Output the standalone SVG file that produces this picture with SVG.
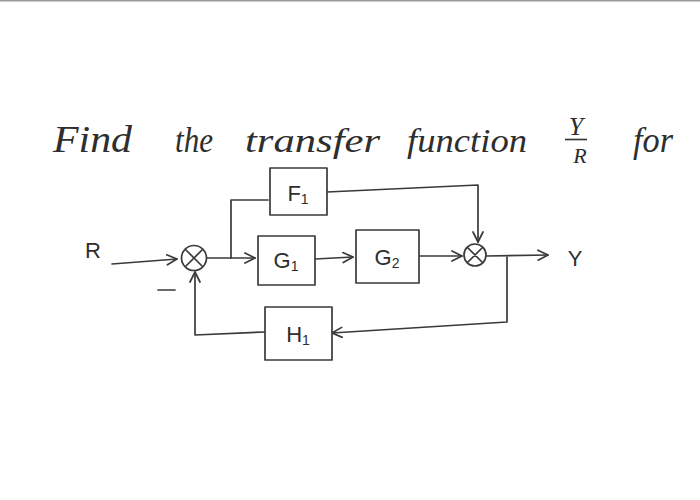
<svg xmlns="http://www.w3.org/2000/svg" width="700" height="500" viewBox="0 0 700 500">
<style>
.ln{fill:none;stroke:#3a3a3a;stroke-width:1.7;stroke-linecap:round;stroke-linejoin:round}
.bx{fill:#fff;stroke:#3a3a3a;stroke-width:1.7;stroke-linejoin:round}
.t{font-family:"Liberation Serif","DejaVu Serif",serif;font-style:italic;fill:#2e2e2e}
.lb{font-family:"Liberation Sans","DejaVu Sans",sans-serif;fill:#2e2e2e;font-size:22px;text-anchor:middle}
.sub{font-size:14px}
</style>
<defs>
<marker id="ah" viewBox="0 0 12 12" refX="11" refY="6" markerWidth="12" markerHeight="12" markerUnits="userSpaceOnUse" orient="auto">
<path d="M1,1 L11,6 L1,11" fill="none" stroke="#3a3a3a" stroke-width="1.7" stroke-linecap="round" stroke-linejoin="round"/>
</marker>
</defs>
<rect width="700" height="500" fill="#fff"/>
<line x1="0" y1="0.5" x2="700" y2="0.5" stroke="#9a9a9a" stroke-width="2"/>
<g id="title" class="t">
<text x="53" y="152" font-size="38" textLength="79" lengthAdjust="spacingAndGlyphs">Find</text>
<text x="175" y="152" font-size="36" textLength="38" lengthAdjust="spacingAndGlyphs">the</text>
<text x="245" y="152" font-size="34" textLength="135" lengthAdjust="spacingAndGlyphs">transfer</text>
<text x="407" y="152" font-size="34" textLength="120" lengthAdjust="spacingAndGlyphs">function</text>
<text x="576" y="135" font-size="26" text-anchor="middle">Y</text>
<line x1="565" y1="139.5" x2="587" y2="139.5" stroke="#3a3a3a" stroke-width="1.7"/>
<text x="580" y="163" font-size="22" text-anchor="middle">R</text>
<text x="633" y="152" font-size="36" textLength="40" lengthAdjust="spacingAndGlyphs">for</text>
</g>
<g id="connectors">
<path class="ln" d="M112,264 L177,259" marker-end="url(#ah)"/>
<path class="ln" d="M206,258 L255,258" marker-end="url(#ah)"/>
<path class="ln" d="M231,258 L231,200 L268,200"/>
<path class="ln" d="M315,259 L353,257" marker-end="url(#ah)"/>
<path class="ln" d="M420,256 L462,256" marker-end="url(#ah)"/>
<path class="ln" d="M327,192 L478,185 L478,242" marker-end="url(#ah)"/>
<path class="ln" d="M486,256 L548,255" marker-end="url(#ah)"/>
<path class="ln" d="M507,257 L507,322 L332,333" marker-end="url(#ah)"/>
<path class="ln" d="M265,332 L195,335 L195,272" marker-end="url(#ah)"/>
</g>
<g id="R"><text class="lb" x="93" y="258" font-size="26">R</text></g>
<g id="Y"><text class="lb" x="575" y="266" font-size="26">Y</text></g>
<g id="minus"><line class="ln" x1="158" y1="290" x2="175" y2="290"/></g>
<g id="sum1">
<circle class="bx" cx="194" cy="258" r="12.5"/>
<path class="ln" d="M186,250 L202,266 M202,250 L186,266"/>
</g>
<g id="sum2">
<circle class="bx" cx="475" cy="255" r="11"/>
<path class="ln" d="M467.5,247.5 L482.5,262.5 M482.5,247.5 L467.5,262.5"/>
</g>
<g id="F1">
<rect class="bx" x="270" y="168" width="57" height="47"/>
<text class="lb" x="298" y="201">F<tspan class="sub" dy="3">1</tspan></text>
</g>
<g id="G1">
<rect class="bx" x="258" y="236" width="57" height="49"/>
<text class="lb" x="286" y="268">G<tspan class="sub" dy="3">1</tspan></text>
</g>
<g id="G2">
<rect class="bx" x="356" y="230" width="63" height="53"/>
<text class="lb" x="387" y="265">G<tspan class="sub" dy="3">2</tspan></text>
</g>
<g id="H1">
<rect class="bx" x="265" y="307" width="67" height="53"/>
<text class="lb" x="298" y="342">H<tspan class="sub" dy="3">1</tspan></text>
</g>
</svg>
